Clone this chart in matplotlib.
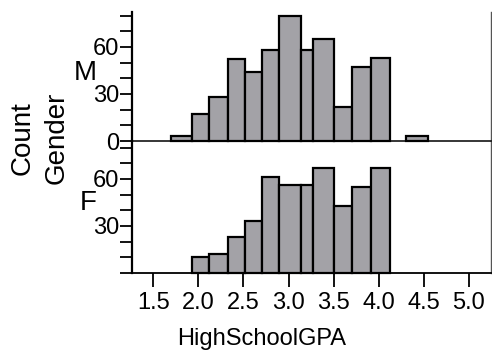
import numpy as np
import matplotlib.pyplot as plt
from matplotlib.ticker import MultipleLocator

plt.rcParams['font.family'] = ['Liberation Sans', 'DejaVu Sans']

# histogram bins (HighSchoolGPA) and counts per gender
bin_left = [1.70, 1.93, 2.12, 2.33, 2.52, 2.71, 2.90, 3.14, 3.27, 3.50, 3.70, 3.91, 4.30]
bin_right = [1.93, 2.12, 2.33, 2.52, 2.71, 2.90, 3.14, 3.27, 3.50, 3.70, 3.91, 4.13, 4.55]
male = [3, 17, 28, 52, 44, 58, 80, 58, 65, 22, 47, 53, 3]
female = [0, 10, 12, 23, 33, 61, 56, 56, 67, 43, 55, 67, 0]
groups = ['M', 'F']
gpa_ticks = [1.5, 2.0, 2.5, 3.0, 3.5, 4.0, 4.5, 5.0]

bar_color = '#a3a2a7'


def draw_panel(ax, counts):
    left = np.array(bin_left)
    width = np.array(bin_right) - left
    counts = np.array(counts)
    keep = counts > 0
    ax.bar(left[keep], counts[keep], width=width[keep], align='edge',
           color=bar_color, edgecolor='black', linewidth=1.6, clip_on=False, zorder=3)
    ax.set_xlim(1.265, 5.245)
    ax.yaxis.set_major_locator(MultipleLocator(30))
    ax.yaxis.set_minor_locator(MultipleLocator(10))
    ax.tick_params(axis='y', which='both', direction='out', length=9, width=1.3,
                   labelsize=17, pad=0)
    ax.spines['left'].set_linewidth(1.6)
    ax.spines['right'].set_color('#555555')
    ax.spines['right'].set_linewidth(1.0)
    ax.spines['top'].set_visible(False)
    ax.patch.set_alpha(0)


fig = plt.figure(figsize=(4.92, 3.52), dpi=100)
ax_f = fig.add_axes([0.2683, 0.2244, 0.7297, 0.3750])
ax_m = fig.add_axes([0.2683, 0.5994, 0.7297, 0.3665])

draw_panel(ax_m, male)
draw_panel(ax_f, female)

ax_m.set_ylim(0, 82.3)
ax_f.set_ylim(0, 84.2)

ax_m.set_yticks([0, 30, 60])
ax_f.set_yticks([30, 60])

# thin separator between the two gender panels
ax_m.tick_params(axis='x', which='both', bottom=False, labelbottom=False)
ax_m.spines['bottom'].set_linewidth(1.1)
ax_m.spines['bottom'].set_color('black')
ax_m.spines['bottom'].set_zorder(4)

ax_f.set_xticks(gpa_ticks)
ax_f.set_xticklabels([f'{t:.1f}' for t in gpa_ticks])
ax_f.tick_params(axis='x', direction='out', length=10, width=1.3, labelsize=17, pad=4)
ax_f.spines['bottom'].set_linewidth(1.3)

# group labels and axis titles
fig.text(0.173, 0.792, groups[0], fontsize=20, ha='center', va='center')
fig.text(0.179, 0.423, groups[1], fontsize=20, ha='center', va='center')
fig.text(0.045, 0.607, 'Count', fontsize=20, rotation=90, ha='center', va='center')
fig.text(0.116, 0.609, 'Gender', fontsize=20, rotation=90, ha='center', va='center')
fig.text(0.532, 0.038, 'HighSchoolGPA', fontsize=17, ha='center', va='center')

fig.savefig('out.png', dpi=100)
